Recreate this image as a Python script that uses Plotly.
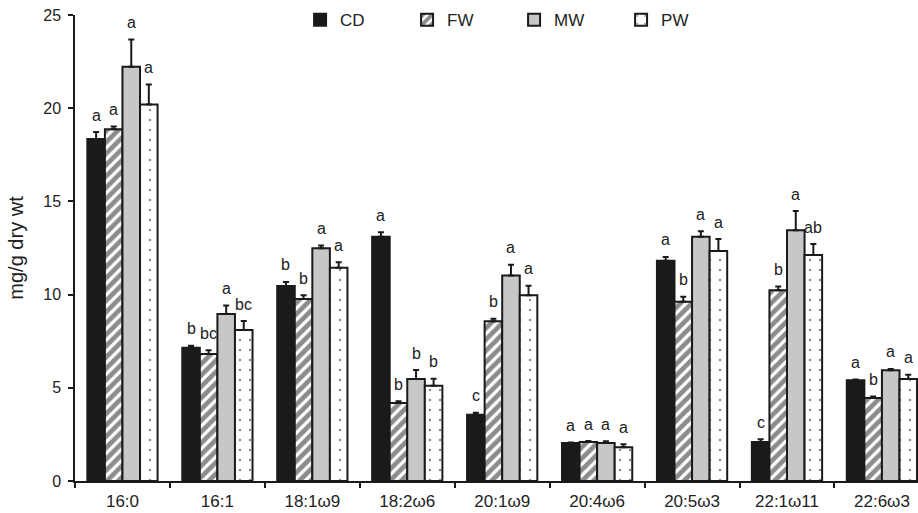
import plotly.graph_objects as go

categories = ["16:0", "16:1", "18:1ω9", "18:2ω6", "20:1ω9", "20:4ω6", "20:5ω3", "22:1ω11", "22:6ω3"]
series_names = ["CD", "FW", "MW", "PW"]

cd_vals = [18.35, 7.15, 10.46, 13.11, 3.56, 2.04, 11.82, 2.09, 5.40]
cd_err = [0.37, 0.11, 0.22, 0.23, 0.10, 0.03, 0.20, 0.15, 0.05]
fw_vals = [18.87, 6.81, 9.76, 4.18, 8.57, 2.09, 9.62, 10.23, 4.45]
fw_err = [0.15, 0.20, 0.20, 0.10, 0.14, 0.05, 0.27, 0.20, 0.08]
mw_vals = [22.23, 8.96, 12.48, 5.47, 11.03, 2.04, 13.11, 13.45, 5.94]
mw_err = [1.45, 0.46, 0.16, 0.48, 0.57, 0.09, 0.29, 1.03, 0.07]
pw_vals = [20.20, 8.10, 11.44, 5.11, 9.96, 1.81, 12.34, 12.12, 5.47]
pw_err = [1.07, 0.48, 0.30, 0.38, 0.52, 0.16, 0.64, 0.59, 0.23]

cd_letters = ["a", "b", "b", "a", "c", "a", "a", "c", "a"]
fw_letters = ["a", "bc", "b", "b", "b", "a", "b", "b", "b"]
mw_letters = ["a", "a", "a", "b", "a", "a", "a", "a", "a"]
pw_letters = ["a", "bc", "a", "b", "a", "a", "a", "ab", "a"]

y_ticks = [0, 5, 10, 15, 20, 25]

FONT = "Liberation Sans, Arial, sans-serif"
INK = "#1a1a1a"
TXT = "#222222"

values = [cd_vals, fw_vals, mw_vals, pw_vals]
errors = [cd_err, fw_err, mw_err, pw_err]
letters = [cd_letters, fw_letters, mw_letters, pw_letters]

styles = [
    dict(color=INK),
    dict(color="white", pattern=dict(shape="/", fgcolor=INK, bgcolor="white", size=8, solidity=0.6)),
    dict(color="#c6c7c9"),
    dict(color="white", pattern=dict(shape=".", fgcolor=INK, bgcolor="white", size=10, solidity=0.05)),
]

fig = go.Figure()
for name, v, e, st in zip(series_names, values, errors, styles):
    fig.add_trace(go.Bar(
        name=name, x=categories, y=v,
        marker=dict(**st, line=dict(color=INK, width=2)),
        error_y=dict(type="data", symmetric=False, array=e, arrayminus=[0] * len(e),
                     color=INK, thickness=2, width=3),
    ))

bargap = 0.26
bw = (1 - bargap) / 4
annotations = []
for j, (v, e, lab) in enumerate(zip(values, errors, letters)):
    for i in range(len(categories)):
        annotations.append(dict(
            x=i + (j - 1.5) * bw, y=v[i] + e[i], xref="x", yref="y",
            text=lab[i], showarrow=False, yanchor="middle", yshift=17,
            font=dict(family=FONT, size=16, color=TXT),
        ))

fig.update_layout(
    width=918, height=513,
    paper_bgcolor="white", plot_bgcolor="white",
    margin=dict(l=75, r=0, t=15, b=32, autoexpand=False),
    barmode="group", bargap=bargap, bargroupgap=0,
    font=dict(family=FONT, size=15, color=TXT),
    annotations=annotations,
    showlegend=True,
    legend=dict(orientation="h", x=0.267, y=0.989, xanchor="left", yanchor="middle",
                font=dict(family=FONT, size=17, color=TXT),
                entrywidth=62, entrywidthmode="pixels", itemwidth=30,
                bgcolor="rgba(0,0,0,0)"),
)
fig.update_xaxes(
    range=[-0.5, 8.38], showline=True, linecolor=INK, linewidth=1.5,
    ticks="outside", tickson="boundaries", ticklen=5, tickcolor=INK, tickwidth=1.5,
    showgrid=False, zeroline=False, automargin=False, ticklabelstandoff=4,
    tickfont=dict(size=17, family=FONT, color=TXT),
)
fig.update_yaxes(
    range=[0, 25], tickvals=y_ticks, showline=True, linecolor=INK, linewidth=1.5,
    ticks="outside", ticklen=5, tickcolor=INK, tickwidth=1.5,
    showgrid=False, zeroline=False, automargin=True, ticklabelstandoff=4,
    tickfont=dict(size=16, family=FONT, color=TXT),
    title=dict(text="mg/g dry wt", font=dict(size=20, family=FONT, color=TXT), standoff=14),
)

fig.write_html(
    "out.html",
    config={"displayModeBar": False},
    post_script="document.body.style.margin='0';document.body.style.overflow='hidden';",
)
